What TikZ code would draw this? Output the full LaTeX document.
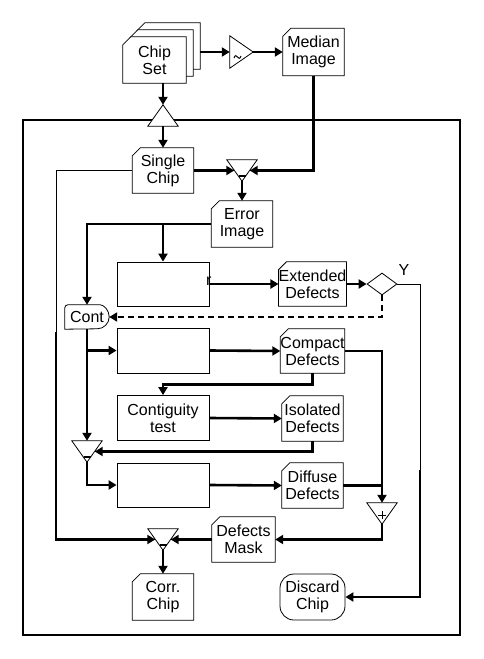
\documentclass[tikz,border=0pt]{standalone}
\usepackage{fontspec}
\setmainfont{Liberation Sans}
\usetikzlibrary{arrows.meta,shapes.geometric,calc}
\pgfdeclarelayer{background}
\pgfsetlayers{background,main}
\tikzset{
  lbl/.style={font=\fontsize{16}{17}\selectfont, align=center, inner sep=0pt},
  card/.style={lbl, minimum width=61pt, minimum height=45pt},
  plainbox/.style={lbl, draw, line width=0.8pt, minimum width=92pt, minimum height=44pt},
  trinode/.style={minimum width=30pt, minimum height=21pt, inner sep=0pt},
  flow/.style={line width=2.6pt, -{Triangle[length=8pt,width=9pt]}},
  flowplain/.style={line width=2.6pt},
  flowdash/.style={flow, dash pattern=on 6pt off 4pt},
  thinline/.style={line width=0.8pt},
  shapeline/.style={line width=0.8pt, fill=white},
}
\newcommand\cardshape[1]{\draw[shapeline] ([xshift=8pt]#1.north west) -- (#1.north east) -- (#1.south east) -- (#1.south west) -- ([yshift=-8pt]#1.north west) -- cycle;}
\newcommand\tridown[1]{\draw[shapeline] (#1.north west) -- (#1.north east) -- (#1.south) -- cycle;}
\newcommand\triup[1]{\draw[shapeline] (#1.south west) -- (#1.south east) -- (#1.north) -- cycle;}
\newcommand\minusbar[1]{\draw[line width=1.6pt] ([xshift=-3.5pt,yshift=5pt]#1.south) -- ([xshift=3.5pt,yshift=5pt]#1.south);}
\begin{document}
\begin{tikzpicture}[x=1pt,y=-1pt]
\useasboundingbox (0,0) rectangle (484,659);

% ---- nodes ----
\node[card, minimum width=63pt, minimum height=46pt] (cs3) at (168.5,46) {};
\node[card, minimum width=63pt, minimum height=46pt] (cs2) at (161.5,53) {};
\node[card, minimum width=63pt, minimum height=46pt] (cs) at (154.5,60) {Chip\\Set};
\node[trinode, minimum width=23pt, minimum height=32pt] (tilde) at (241.5,52) {};
\node[card, minimum height=47pt] (median) at (313.5,52) {Median\\Image};
\node[trinode] (up) at (163,115.5) {};
\node[card] (single) at (163,170.5) {Single\\Chip};
\node[trinode] (sub1) at (242,170.5) {};
\node[card, minimum height=46pt] (error) at (242,224) {Error\\Image};
\node[plainbox] (box1) at (163,284) {};
\node[lbl, anchor=base west] (rr) at (206,285) {r};
\node[card, minimum height=44pt] (ext) at (312.5,284) {Extended\\Defects};
\node[draw, diamond, line width=0.8pt, minimum width=30pt, minimum height=22pt, inner sep=0pt] (dia) at (382,284) {};
\node[lbl] (ylab) at (404,270) {Y};
\node[lbl, minimum width=44pt, minimum height=24pt] (cont) at (87,317) {Cont};
\node[plainbox, minimum height=45pt] (box2) at (163,350.5) {};
\node[card, minimum height=44pt] (compact) at (312.5,351) {Compact\\Defects};
\node[plainbox, minimum height=45pt] (contig) at (163,418) {Contiguity\\test};
\node[card] (isolated) at (312.5,418.5) {Isolated\\Defects};
\node[trinode] (tri2) at (87,451.5) {};
\node[plainbox] (box3) at (163,485) {};
\node[card] (diffuse) at (312.5,485.5) {Diffuse\\Defects};
\node[trinode] (plus) at (382,513.5) {};
\node[card, minimum width=63pt] (mask) at (243.5,539.5) {Defects\\Mask};
\node[trinode] (sub3) at (163,539.5) {};
\node[card, minimum height=46pt] (corr) at (163,597) {Corr.\\Chip};
\node[lbl, draw, line width=0.8pt, rounded corners=14pt, minimum width=65pt, minimum height=46pt] (discard) at (312.5,597) {Discard\\Chip};

% ---- shapes (background) ----
\begin{pgfonlayer}{background}
  \draw[line width=1.8pt] (23,120) rectangle (460,635);
  \cardshape{cs3}
  \cardshape{cs2}
  \cardshape{cs}
  \cardshape{median}
  \cardshape{single}
  \cardshape{error}
  \cardshape{ext}
  \cardshape{compact}
  \cardshape{isolated}
  \cardshape{diffuse}
  \cardshape{mask}
  \cardshape{corr}
  \draw[shapeline] (tilde.north west) -- (tilde.east) -- (tilde.south west) -- cycle;
  \triup{up}
  \tridown{sub1}
  \tridown{tri2}
  \tridown{plus}
  \tridown{sub3}
  \draw[shapeline, rounded corners=3pt] (cont.south west) -- (cont.north west) -- ([xshift=-12pt]cont.north east) [sharp corners] arc[start angle=90, end angle=-90, radius=12pt] -- cycle;
\end{pgfonlayer}

% symbols inside triangles
\draw[line width=1pt] (234,58) .. controls (236.5,51) and (238.5,63) .. (241,56);
\minusbar{sub1}
\minusbar{tri2}
\minusbar{sub3}
\draw[line width=1pt] (378,515) -- (386,515);
\draw[line width=1pt] (382,511) -- (382,519);

% ---- connectors ----
\draw[flow] ([yshift=-6pt]cs3.east) -- (tilde.west);
\draw[flow] (tilde.east) -- (median.west);
\draw[flow] (up.north |- cs.south) -- (up.north);
\draw[flow] (up.south) -- (single.north);
\draw[flow] (single.east) -- ([xshift=7.5pt]sub1.west);
\draw[flow] (median.south) |- ([xshift=-7.5pt]sub1.east);
\draw[flow] (sub1.south) -- (error.north);
\draw[flow] (error.west) -| (cont.north);
\draw[flow] (box1.north |- error.west) -- (box1.north);
\draw[flow] (box1.east) -- (ext.west);
\draw[flow] (ext.east) -- (dia.west);
\coordinate (rv) at (420,470);
\draw[thinline] (dia.east) -| (rv);
\draw[flow] (rv) |- (discard.east);
\draw[flowdash] (dia.south) |- (cont.east);
\draw[flow] (cont.south) -- (cont.south |- tri2.north);
\draw[flow] (cont.south |- box2.west) -- (box2.west);
\draw[flow] (box2.east) -- (compact.west);
\draw[flow] (compact.east) -| (plus.north);
\draw[flow] (compact.south) -- ++(0,11) -| (contig.north);
\draw[flow] (contig.east) -- (isolated.west);
\draw[flow] (isolated.south) |- ([xshift=-7.5pt]tri2.east);
\draw[flow] (tri2.south) |- (box3.west);
\draw[flow] (box3.east) -- (diffuse.west);
\draw[flowplain] (diffuse.east) -- (plus.north |- diffuse.east);
\draw[flow] (plus.south) |- (mask.east);
\draw[flow] (mask.west) -- ([xshift=-7.5pt]sub3.east);
\coordinate (lv) at (56,332);
\draw[thinline] (single.west) -| (lv);
\draw[flow] (lv) |- ([xshift=7.5pt]sub3.west);
\draw[flow] (sub3.south) -- (corr.north);
\end{tikzpicture}
\end{document}
